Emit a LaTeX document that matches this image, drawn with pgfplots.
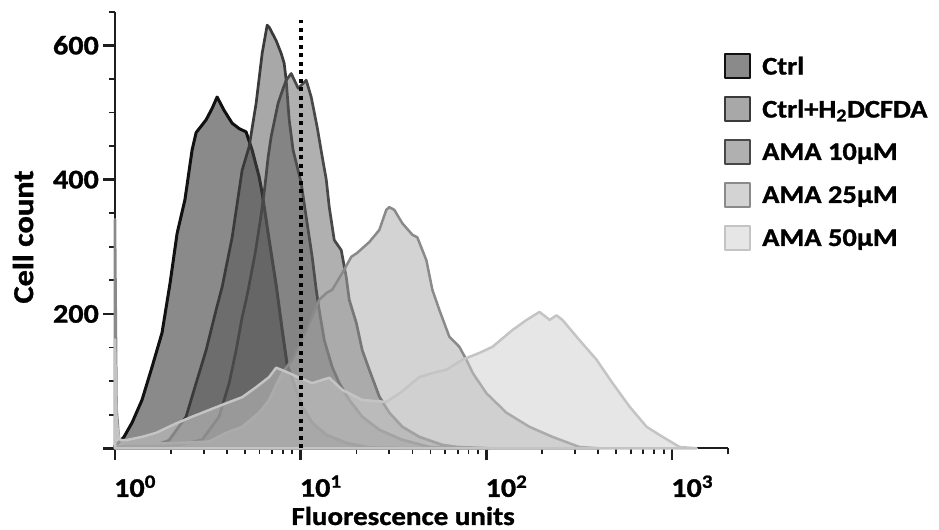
\documentclass[border=0pt]{standalone}
\usepackage{fontspec}
\setmainfont{Carlito}[FakeStretch=1.12, BoldFeatures={FakeBold=1.2}]
\usepackage{pgfplots}
\pgfplotsset{compat=1.18}
\definecolor{axcol}{HTML}{1E1E1E}
\definecolor{fA}{HTML}{151515}\definecolor{lA}{HTML}{111111}
\definecolor{fB}{HTML}{515151}\definecolor{lB}{HTML}{3A3A3A}
\definecolor{fC}{HTML}{616161}\definecolor{lC}{HTML}{484848}
\definecolor{fD}{HTML}{A7A7A7}\definecolor{lD}{HTML}{8A8A8A}
\definecolor{fE}{HTML}{CDCDCD}\definecolor{lE}{HTML}{C4C4C4}
\begin{document}
\begin{tikzpicture}
\useasboundingbox (0,0) rectangle (939bp,530bp);
\begin{axis}[
  at={(115bp,81.7bp)}, anchor=south west,
  scale only axis, width=613bp, height=436.6bp,
  xmode=log, xmin=1, xmax=2000, ymin=0, ymax=650,
  axis lines=left, axis line style={-, line width=2bp, color=axcol},
  clip=false,
  xtick={1,10,100,1000},
  xticklabels={10\textsuperscript{0},10\textsuperscript{1},10\textsuperscript{2},10\textsuperscript{3}},
  minor xtick={2,3,4,5,6,7,8,9,20,30,40,50,60,70,80,90,200,300,400,500,600,700,800,900,2000},
  ytick={0,200,400,600}, yticklabels={{},200,400,600},
  minor ytick={50,100,150,250,300,350,450,500,550,650},
  tick align=outside,
  major tick length=12bp, minor tick length=6bp,
  every major tick/.append style={line width=2.5bp, color=axcol},
  every minor tick/.append style={line width=1.8bp, color=axcol},
  tick label style={font=\fontsize{27}{30}\selectfont\bfseries, inner sep=0pt},
  xticklabel style={anchor=north west, xshift=-1bp, yshift=-15bp},
  yticklabel style={anchor=east, xshift=-4bp},
  xlabel={Fluorescence units}, ylabel={Cell count},
  xlabel style={font=\fontsize{26}{30}\selectfont\bfseries, at={(axis description cs:0.470,-0.155)}, anchor=center},
  ylabel style={font=\fontsize{29}{32}\selectfont\bfseries, at={(axis description cs:-0.150,0.484)}, anchor=center},
  legend style={at={(0.9935,0.905)}, anchor=north west, draw=none, fill=none,
    font=\fontsize{25.5}{28}\selectfont\bfseries, row sep=17bp, inner sep=0pt,
    nodes={inner sep=2bp},
    /tikz/every odd column/.append style={column sep=9bp}},
  legend cell align=left,
  legend image code/.code={\draw[#1, line width=2bp] (0bp,-12bp) rectangle (25bp,12bp);},
]
\addplot[fill=fA, fill opacity=0.5, draw=lA, line width=3bp, line join=round] coordinates {
(1.0,4) (1.06,10) (1.118,17) (1.235,38) (1.398,72) (1.583,121) (1.792,172) (1.98,246) (2.16,320) (2.38,370) (2.601,444) (2.734,470) (3.094,489) (3.334,506) (3.547,523) (3.87,503) (4.274,484) (4.661,476) (5.083,471) (5.477,444) (5.974,404) (6.201,380) (6.764,310) (7.378,243) (7.949,176) (8.458,124) (9.457,87) (10.19,62) (11.53,38) (13.73,20) (17.59,8) (23.4,1) (34,0)
} \closedcycle;
\addlegendentry{Ctrl}
\addplot[fill=fB, fill opacity=0.5, draw=lB, line width=2.7bp, line join=round] coordinates {
(1.0,3) (1.4,4) (1.7,6) (1.955,12) (2.414,47) (2.734,97) (3.094,146) (3.503,206) (3.774,240) (4.274,314) (4.837,414) (5.276,449) (5.756,514) (6.201,588) (6.598,630) (6.764,627) (7.378,607) (7.851,588) (8.149,573) (8.354,548) (8.67,489) (9.1,444) (10.06,395) (10.71,344) (11.53,285) (12.12,236) (12.58,206) (13.39,161) (14.78,121) (16.13,97) (18.26,72) (21.45,47) (26.5,27.5) (35.26,12.6) (49.3,2) (71.5,0)
} \closedcycle;
\addlegendentry{Ctrl+H\textsubscript{2}DCFDA}
\addplot[fill=fC, fill opacity=0.5, draw=lC, line width=2.7bp, line join=round] coordinates {
(1.0,3) (1.5,3) (2.2,5) (2.944,12.6) (3.636,47) (4.118,97) (4.491,146) (4.837,195) (5.083,221) (5.276,243) (5.69,291) (6.12,347) (6.43,392) (6.68,434) (6.934,464) (7.29,493) (7.56,514) (8.05,536) (8.354,548) (8.888,558) (9.694,536) (10.71,548) (11.39,523) (12.27,478) (13.06,434) (13.73,400) (14.25,359) (15.16,310) (16.53,295) (17.59,255) (18.26,221) (19.92,187) (21.45,146) (23.4,117) (26.5,77) (30.0,53) (35.26,32) (43.54,17) (57.92,5) (68.93,2) (104,0)
} \closedcycle;
\addlegendentry{AMA 10µM}
\addplot[fill=fD, fill opacity=0.5, draw=lD, line width=2.5bp, line join=round] coordinates {
(1.0,341) (1.02,60) (1.05,15) (1.1,9) (1.3,7) (1.6,7) (2.133,8) (3.212,10) (3.967,23) (4.837,32) (5.974,53) (6.764,72) (7.378,94) (7.949,112) (8.999,132) (10.71,176) (12.58,221) (13.73,231) (14.78,236) (16.74,261) (18.72,285) (20.16,291) (23.4,307) (26.5,325) (28.9,355) (30.0,359) (31.92,355) (35.26,335) (39.92,318) (42.47,314) (47.5,280) (51.17,236) (55.8,206) (63.18,166) (71.53,151) (78.0,132) (84.5,112) (100,82) (128.2,53) (170.5,32) (226.9,17) (317.2,2) (405,0)
} \closedcycle;
\addlegendentry{AMA 25µM}
\addplot[fill=fE, fill opacity=0.5, draw=lE, line width=2.5bp, line join=round] coordinates {
(1.0,162) (1.02,40) (1.05,14) (1.091,12) (1.146,12) (1.398,17) (1.664,23) (2.133,37) (2.601,47) (3.212,57) (3.967,67) (4.837,76) (5.756,91) (6.764,106) (7.378,120) (8.67,112) (9.816,105) (11.53,97) (14.25,105) (16.74,87) (21.45,72) (28.9,69) (35.26,85) (43.54,106) (51.17,112) (60.87,117) (74.27,132) (91.7,142) (107.7,151) (138.1,176) (164.3,191) (193.1,203) (210.6,195) (218.6,191) (238.4,198) (256.9,191) (317.2,161) (391.7,132) (477.9,97) (590.2,62) (728.9,32) (888.9,17) (1098,2) (1356,0)
} \closedcycle;
\addlegendentry{AMA 50µM}
\addplot[forget plot, black, line width=4bp, dash pattern=on 4bp off 4.5bp] coordinates {(10,0) (10,637)};
\end{axis}
\end{tikzpicture}
\end{document}
